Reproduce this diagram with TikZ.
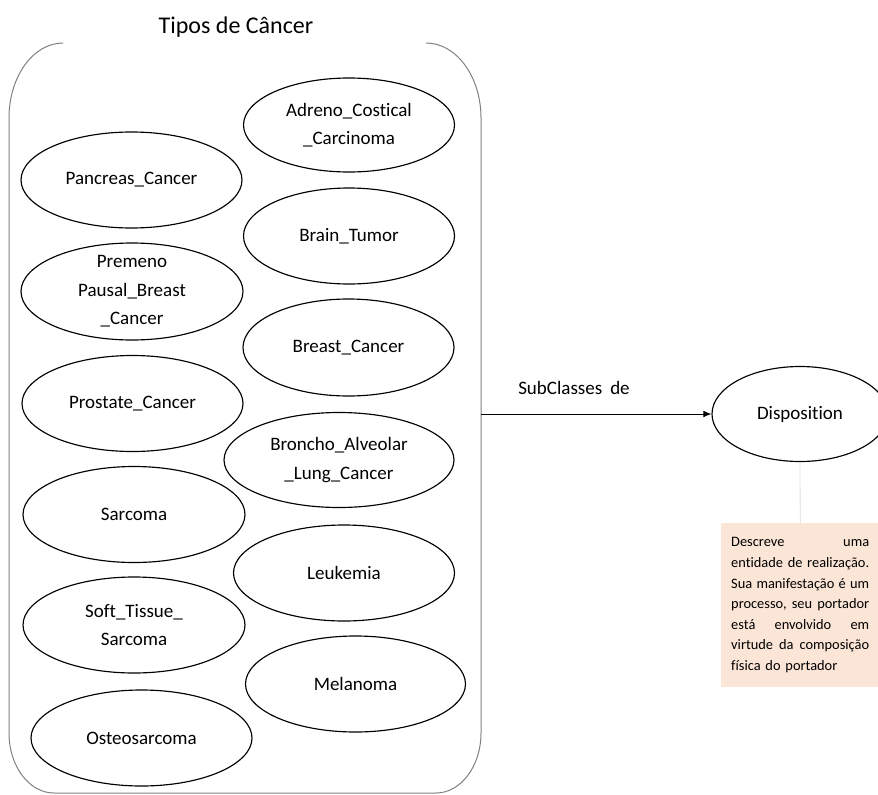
\documentclass[tikz,border=0pt]{standalone}
\usepackage{fontspec}
\setmainfont{Carlito}[Ligatures={NoCommon,NoDiscretionary}]
\usetikzlibrary{shapes.geometric,arrows.meta}
\definecolor{notefill}{HTML}{FBE5D6}
\definecolor{framegray}{HTML}{808080}
\definecolor{tether}{HTML}{E4DAD4}
% one justified line of the note: words are separated by \hfill
\newcommand{\jline}[1]{\makebox[138pt][l]{#1}\\}

\begin{document}
\begin{tikzpicture}[x=1pt,y=-1pt,
  cls/.style={ellipse, draw=black, line width=1.15pt, inner sep=0pt},
  lbl/.style={align=center, font=\fontsize{19}{28.5}\selectfont, inner sep=0pt},
  frame/.style={draw=framegray, line width=1pt},
  relation/.style={draw=black, line width=0.8pt, -{Latex[length=8pt,width=6.5pt]}},
  note/.style={fill=notefill, text width=138pt, align=left, inner xsep=10pt, inner ysep=0pt,
    minimum height=164pt, font=\fontsize{14.4}{20.6}\selectfont},
  faint/.style={draw=tether, line width=0.8pt}
]
\useasboundingbox (0,0) rectangle (878,795);

% group title and the open-topped rounded frame
\node[font=\fontsize{24}{28}\selectfont, inner sep=0pt] (title) at (236,27) {Tipos de Câncer};
\draw[frame] (63,43) .. controls (33.2,43) and (9,76.6) .. (9,118)
  -- (9,733) .. controls (9,766.1) and (29.1,793) .. (54,793)
  -- (436,793) .. controls (460.9,793) and (481,766.1) .. (481,733)
  -- (481,118) .. controls (481,76.6) and (456.4,43) .. (426,43);
\coordinate (frameE) at (481,414);

% cancer classes, left column
\node[cls, minimum width=221pt, minimum height=96pt] (pancreas) at (131.5,180) {};
\node[cls, minimum width=222pt, minimum height=97pt] (premeno) at (132,291.5) {};
\node[cls, minimum width=221pt, minimum height=96pt] (prostate) at (132.5,403.5) {};
\node[cls, minimum width=222pt, minimum height=96pt] (sarcoma) at (134,514.5) {};
\node[cls, minimum width=222pt, minimum height=96pt] (soft) at (134,625) {};
\node[cls, minimum width=221pt, minimum height=96pt] (osteo) at (141.5,738) {};

% cancer classes, right column
\node[cls, minimum width=211pt, minimum height=94pt] (adreno) at (349,125) {};
\node[cls, minimum width=211pt, minimum height=96pt] (brain) at (349,236) {};
\node[cls, minimum width=211pt, minimum height=97pt] (breast) at (348.5,347.5) {};
\node[cls, minimum width=230pt, minimum height=95pt] (broncho) at (339,460) {};
\node[cls, minimum width=221pt, minimum height=96pt] (leukemia) at (344,573) {};
\node[cls, minimum width=220pt, minimum height=96pt] (melanoma) at (355.5,684) {};

% class labels
\node[lbl] (pancreasT) at (pancreas) {Pancreas\_Cancer};
\node[lbl] (premenoT) at (premeno) {Premeno\\Pausal\_Breast\\\_Cancer};
\node[lbl] (prostateT) at (prostate) {Prostate\_Cancer};
\node[lbl] (sarcomaT) at (sarcoma) {Sarcoma};
\node[lbl] (softT) at (soft) {Soft\_Tissue\_\\Sarcoma};
\node[lbl] (osteoT) at (osteo) {Osteosarcoma};
\node[lbl] (adrenoT) at (adreno) {Adreno\_Costical\\\_Carcinoma};
\node[lbl] (brainT) at (brain) {Brain\_Tumor};
\node[lbl] (breastT) at (breast) {Breast\_Cancer};
\node[lbl] (bronchoT) at (broncho) {Broncho\_Alveolar\\\_Lung\_Cancer};
\node[lbl] (leukemiaT) at (leukemia) {Leukemia};
\node[lbl] (melanomaT) at (melanoma) {Melanoma};

% superclass and relation
\node[cls, minimum width=176pt, minimum height=95pt] (disp) at (800,414) {};
\node[lbl] (dispT) at (disp) {Disposition};
\draw[relation] (frameE) -- (disp.west);
\node[lbl] (rel) at (574,388) {SubClasses\hspace{8pt}de};

% description note
\node[note, anchor=north west] (note) at (721,523) {%
\jline{Descreve\hfill uma}
\jline{entidade\hfill de\hfill realização.}
\jline{Sua\hfill manifestação\hfill é\hfill um}
\jline{processo,\hfill seu\hfill portador}
\jline{está\hfill envolvido\hfill em}
\jline{virtude\hfill da\hfill composição}
física do portador};
\draw[faint] (disp.south) -- (note.north);
\end{tikzpicture}
\end{document}
